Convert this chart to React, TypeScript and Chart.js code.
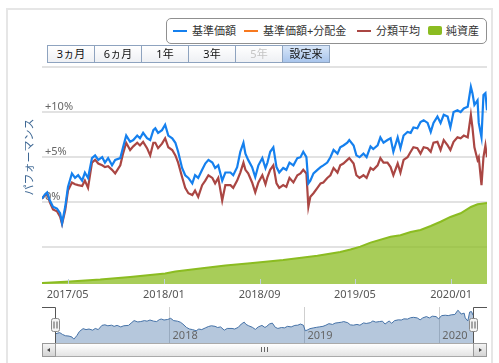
import React, { useEffect, useRef } from 'react';
import { Chart, registerables } from 'chart.js';

Chart.register(...registerables);

// ---------- data ----------
const START_DATE = '2017-02-25';
const END_DAY = 1131;

// day offsets from START_DATE for performance series
const perfDays = [
  0, 8, 13, 20, 28, 38, 46, 51, 59, 66, 76, 84, 92, 102, 109, 117, 127, 135, 143, 153,
  160, 168, 178, 186, 199, 206, 214, 224, 232, 242, 249, 257, 267, 275, 283, 288, 295, 305, 313, 321,
  331, 339, 346, 356, 364, 372, 382, 389, 397, 407, 415, 423, 433, 440, 448, 458, 466, 479, 486, 496,
  504, 512, 517, 524, 534, 542, 550, 560, 568, 573, 580, 588, 596, 603, 613, 621, 629, 639, 649, 657,
  664, 672, 677, 682, 690, 700, 708, 715, 725, 733, 741, 751, 758, 766, 776, 781, 792, 799, 807, 817,
  825, 835, 842, 853, 860, 868, 878, 886, 893, 904, 911, 919, 929, 937, 944, 954, 962, 970, 980, 988,
  995, 1005, 1013, 1021, 1031, 1038, 1046, 1056, 1064, 1072, 1082, 1090, 1094, 1099, 1107, 1110, 1117, 1122, 1127, 1131,
];

// 基準価額 (%)
const fundNav = [
  0.4, 0.9, 1.1, 0.2, -0.5, -0.7, -1.2, -2.3, -0.5, 1.7, 3.2, 2.7, 3.0, 2.4, 3.3, 2.7, 4.9, 5.2, 4.7, 5.0,
  4.4, 4.9, 4.1, 4.7, 4.9, 6.1, 7.4, 6.7, 6.9, 7.4, 7.1, 7.7, 7.1, 6.9, 8.0, 8.2, 7.7, 8.0, 8.6, 7.4,
  7.1, 6.6, 5.6, 3.8, 3.0, 2.7, 2.1, 3.0, 2.7, 3.6, 4.3, 4.7, 4.4, 3.8, 4.1, 2.4, 3.3, 3.3, 3.0, 3.9,
  5.6, 6.6, 5.4, 4.7, 3.9, 2.8, 4.1, 4.9, 3.8, 4.4, 5.6, 6.1, 3.9, 3.3, 3.8, 3.6, 4.4, 4.1, 4.9, 5.0,
  5.6, 5.0, 2.1, 2.4, 3.2, 3.6, 3.9, 4.1, 4.4, 5.0, 5.8, 5.4, 6.1, 6.3, 6.6, 6.9, 6.3, 5.2, 5.0, 5.4,
  5.0, 6.2, 5.9, 6.3, 7.2, 6.6, 6.9, 7.1, 5.6, 7.2, 6.0, 7.4, 7.8, 7.7, 8.3, 8.2, 8.9, 9.1, 8.8, 7.8,
  8.8, 9.5, 8.8, 9.7, 9.5, 8.3, 10.0, 10.2, 10.0, 10.4, 10.6, 12.8, 12.1, 10.8, 11.3, 8.8, 7.2, 11.9, 12.1, 10.2,
];

// 分類平均 (%)
const categoryAvg = [
  0.4, 0.8, 1.0, 0.0, -0.8, -1.0, -1.6, -2.4, -0.9, 1.3, 2.2, 2.0, 1.9, 1.8, 2.4, 1.6, 4.4, 4.7, 4.3, 4.1,
  3.9, 4.0, 3.6, 3.2, 4.1, 5.4, 6.6, 5.8, 6.2, 6.6, 6.3, 6.7, 6.0, 5.2, 6.6, 6.6, 6.0, 6.5, 7.1, 6.1,
  5.8, 5.2, 4.4, 2.8, 1.6, 1.0, 0.8, 1.3, 0.6, 1.9, 2.4, 3.0, 2.7, 2.1, 2.7, 0.2, 1.9, 1.9, 1.6, 2.4,
  3.3, 4.4, 3.6, 3.2, 2.2, 1.1, 2.2, 3.0, 2.0, 2.8, 3.6, 4.1, 2.1, 1.6, 1.9, 1.7, 2.7, 2.2, 3.0, 3.2,
  3.6, 3.2, -0.5, 0.6, 1.0, 1.6, 2.1, 2.2, 2.7, 3.0, 3.8, 3.3, 4.1, 4.3, 4.7, 4.9, 4.3, 3.0, 2.7, 3.0,
  2.7, 3.8, 3.6, 4.1, 4.9, 4.4, 4.4, 3.9, 3.0, 4.3, 3.3, 4.7, 5.0, 5.6, 6.1, 6.0, 5.4, 6.1, 6.0, 5.6,
  6.6, 6.7, 5.8, 6.9, 6.3, 5.8, 6.7, 7.2, 7.1, 7.4, 7.2, 9.7, 8.3, 6.1, 4.7, 5.0, 1.9, 5.0, 6.3, 5.0,
];

// 純資産 (億円)
const assetDays = [
  0, 71, 148, 224, 313, 339, 402, 466, 529, 613, 700, 758, 784, 809, 835, 886, 911, 937, 962, 988,
  1013, 1038, 1064, 1090, 1107, 1131,
];
const netAssets = [
  0.9, 2.3, 4.1, 6.5, 9.7, 11.5, 14.3, 17.1, 19.1, 22.1, 26.1, 29.5, 31.8, 34.4, 38.1, 43.6, 45.0, 47.9, 49.8, 53.5,
  57.4, 61.8, 65.2, 71.0, 73.5, 74.7,
];

const xTickDates = ['2017-05-01', '2018-01-01', '2018-09-01', '2019-05-01', '2020-01-01'];
const xTickLabels = ['2017/05', '2018/01', '2018/09', '2019/05', '2020/01'];
const yGridValues = [-5, 0, 5, 10, 15];
const yLabelValues = [0, 5, 10];
const yLabelTexts = ['0%', '+5%', '+10%'];
const navYearDates = ['2018-01-01', '2019-01-01', '2020-01-01'];
const navYearLabels = ['2018', '2019', '2020'];
const rangeButtons = ['3ヵ月', '6ヵ月', '1年', '3年', '5年', '設定来'];
const legendLabels = ['基準価額', '基準価額+分配金', '分類平均', '純資産'];
const yAxisTitle = 'パフォーマンス';

// ---------- styles ----------
const BLUE = '#1580ee';
const ORANGE = '#f7791f';
const RED = '#aa4643';
const GREEN = '#8bbc21';
const FONT = '"Noto Sans", "Noto Sans CJK JP", sans-serif';

const dayOf = (d: string) =>
  Math.round((Date.parse(d + 'T00:00:00Z') - Date.parse(START_DATE + 'T00:00:00Z')) / 86400000);

const mainDecor = {
  id: 'mainDecor',
  beforeDatasetsDraw(chart: any) {
    const { ctx, chartArea, scales } = chart;
    ctx.save();
    ctx.font = '11px ' + FONT;
    ctx.fillStyle = '#666666';
    ctx.textAlign = 'left';
    ctx.textBaseline = 'alphabetic';
    yLabelValues.forEach((v, i) => {
      ctx.fillText(yLabelTexts[i], chartArea.left + 3, scales.y.getPixelForValue(v) - 2.5);
    });
    ctx.restore();
  },
  afterDatasetsDraw(chart: any) {
    const { ctx, chartArea, scales } = chart;
    ctx.save();
    ctx.strokeStyle = '#c0d0e0';
    ctx.lineWidth = 1;
    xTickDates.forEach((d) => {
      const x = Math.round(scales.x.getPixelForValue(dayOf(d))) + 0.5;
      ctx.beginPath();
      ctx.moveTo(x, chartArea.bottom - 5);
      ctx.lineTo(x, chartArea.bottom);
      ctx.stroke();
    });
    ctx.restore();
  },
};

const navDecor = {
  id: 'navDecor',
  afterDraw(chart: any) {
    const { ctx, chartArea, scales } = chart;
    const { left, right, top, bottom } = chartArea;
    ctx.save();
    // year labels
    ctx.font = '11px ' + FONT;
    ctx.fillStyle = '#666666';
    ctx.textAlign = 'left';
    ctx.textBaseline = 'alphabetic';
    navYearDates.forEach((d, i) => {
      ctx.fillText(navYearLabels[i], scales.x.getPixelForValue(dayOf(d)) + 3, bottom - 4);
    });
    // outline
    ctx.strokeStyle = '#555555';
    ctx.lineWidth = 1;
    const lx = Math.round(left) + 0.5;
    const rx = Math.round(right) + 0.5;
    const ty = Math.round(top) + 0.5;
    ctx.beginPath();
    ctx.moveTo(left - 13, ty);
    ctx.lineTo(lx, ty);
    ctx.lineTo(lx, bottom);
    ctx.moveTo(rx, bottom);
    ctx.lineTo(rx, ty);
    ctx.lineTo(right + 14, ty);
    ctx.stroke();
    // handles
    [lx, rx].forEach((cx) => {
      const hy = Math.round((top + bottom) / 2) - 6.5;
      ctx.beginPath();
      ctx.roundRect(cx - 4, hy, 8, 13, 2);
      ctx.fillStyle = '#f4f4f4';
      ctx.fill();
      ctx.strokeStyle = '#8a8a8a';
      ctx.stroke();
      ctx.beginPath();
      ctx.strokeStyle = '#555555';
      ctx.moveTo(cx - 1.5, hy + 3);
      ctx.lineTo(cx - 1.5, hy + 10);
      ctx.moveTo(cx + 1.5, hy + 3);
      ctx.lineTo(cx + 1.5, hy + 10);
      ctx.stroke();
    });
    ctx.restore();
  },
};

export default function App() {
  const mainRef = useRef<HTMLCanvasElement>(null);
  const navRef = useRef<HTMLCanvasElement>(null);

  useEffect(() => {
    const fundPts = perfDays.map((d, i) => ({ x: d, y: fundNav[i] }));
    const avgPts = perfDays.map((d, i) => ({ x: d, y: categoryAvg[i] }));
    const assetPts = assetDays.map((d, i) => ({ x: d, y: netAssets[i] }));
    const tickDays = xTickDates.map(dayOf);

    const main = new Chart(mainRef.current as HTMLCanvasElement, {
      type: 'line',
      data: {
        datasets: [
          { label: legendLabels[0], data: fundPts, borderColor: BLUE, borderWidth: 2.2, pointRadius: 0, yAxisID: 'y', fill: false },
          { label: legendLabels[1], data: [], borderColor: ORANGE, borderWidth: 2, pointRadius: 0, yAxisID: 'y', fill: false },
          { label: legendLabels[2], data: avgPts, borderColor: RED, borderWidth: 2.2, pointRadius: 0, yAxisID: 'y', fill: false },
          {
            label: legendLabels[3], data: assetPts, borderColor: GREEN, borderWidth: 2, pointRadius: 0,
            backgroundColor: 'rgba(139,188,33,0.75)', fill: 'start', yAxisID: 'y2',
          },
        ],
      },
      options: {
        animation: false,
        responsive: false,
        devicePixelRatio: 1,
        layout: { padding: { left: 42, right: 12, top: 67, bottom: 0 } },
        plugins: { legend: { display: false }, tooltip: { enabled: false } },
        scales: {
          x: {
            type: 'linear',
            min: 0,
            max: END_DAY,
            grid: { display: false },
            border: { display: false },
            ticks: {
              autoSkip: false,
              maxRotation: 0,
              padding: -4,
              color: '#555555',
              font: { size: 11, family: FONT },
              callback: (v: any) => {
                const i = tickDays.indexOf(Number(v));
                return i >= 0 ? xTickLabels[i] : '';
              },
            },
            afterBuildTicks: (s: any) => {
              s.ticks = tickDays.map((v) => ({ value: v }));
            },
            afterFit: (s: any) => {
              s.height = 16;
            },
          },
          y: {
            type: 'linear',
            position: 'left',
            min: -9.06,
            max: 15,
            grid: { color: '#e2e2e2', lineWidth: 2, drawTicks: false },
            border: { display: false },
            ticks: { display: false },
            afterBuildTicks: (s: any) => {
              s.ticks = yGridValues.map((v) => ({ value: v }));
            },
            afterFit: (s: any) => {
              s.width = 0;
            },
          },
          y2: { type: 'linear', position: 'right', min: 0, max: 200, display: false },
        },
      },
      plugins: [mainDecor],
    } as any);

    const yearDays = navYearDates.map(dayOf);
    const nav = new Chart(navRef.current as HTMLCanvasElement, {
      type: 'line',
      data: {
        datasets: [
          {
            data: fundPts, borderColor: '#4572a7', borderWidth: 1, pointRadius: 0,
            backgroundColor: 'rgba(69,114,167,0.4)', fill: 'start',
          },
        ],
      },
      options: {
        animation: false,
        responsive: false,
        devicePixelRatio: 1,
        layout: { padding: { left: 55, right: 26, top: 7, bottom: 7 } },
        plugins: { legend: { display: false }, tooltip: { enabled: false } },
        scales: {
          x: {
            type: 'linear',
            min: 0,
            max: END_DAY,
            grid: { color: '#cfcfcf', lineWidth: 1, drawTicks: false },
            border: { display: false },
            ticks: { display: false },
            afterBuildTicks: (s: any) => {
              s.ticks = yearDays.map((v) => ({ value: v }));
            },
            afterFit: (s: any) => {
              s.height = 0;
            },
          },
          y: { type: 'linear', min: -4.3, max: 14.5, display: false },
        },
      },
      plugins: [navDecor],
    } as any);

    return () => {
      main.destroy();
      nav.destroy();
    };
  }, []);

  const btnLefts = [47, 94, 141, 188, 235, 282];
  const legendSym = [173, 244, 357];
  const legendText = [192, 263, 376, 446];

  return (
    <div
      style={{
        position: 'fixed', left: 0, top: 0, width: 499, height: 363, overflow: 'hidden',
        background: '#ffffff', fontFamily: FONT,
      }}
    >
      <div
        style={{
          position: 'absolute', left: 6, top: 8, width: 487, height: 400, boxSizing: 'border-box',
          border: '2px solid #e6e6e6',
        }}
      />
      <canvas ref={mainRef} width={499} height={300} style={{ position: 'absolute', left: 0, top: 0 }} />
      <canvas ref={navRef} width={499} height={50} style={{ position: 'absolute', left: 0, top: 300 }} />

      {/* y axis title */}
      <div
        style={{
          position: 'absolute', left: 29 - 45, top: 157 - 7, width: 90, height: 14, lineHeight: '14px',
          textAlign: 'center', fontSize: 11, color: '#3f6894', transform: 'rotate(-90deg)', whiteSpace: 'nowrap',
        }}
      >
        {yAxisTitle}
      </div>

      {/* legend */}
      <div
        style={{
          position: 'absolute', left: 166, top: 18, width: 321, height: 26, boxSizing: 'border-box',
          border: '1px solid #909090', borderRadius: 5, background: '#fff',
        }}
      />
      {[BLUE, ORANGE, RED].map((c, i) => (
        <div key={'s' + i} style={{ position: 'absolute', left: legendSym[i], top: 30, width: 14, height: 2, background: c }} />
      ))}
      <div style={{ position: 'absolute', left: 428, top: 26, width: 14, height: 9, borderRadius: 2, background: GREEN }} />
      {legendLabels.map((t, i) => (
        <div
          key={'t' + i}
          style={{
            position: 'absolute', left: legendText[i], top: 23, height: 16, lineHeight: '16px', fontSize: 11,
            color: '#333333', whiteSpace: 'nowrap',
          }}
        >
          {t}
        </div>
      ))}

      {/* range buttons */}
      {rangeButtons.map((t, i) => {
        const sel = i === 5;
        const dis = i === 4;
        return (
          <div
            key={'b' + i}
            style={{
              position: 'absolute', left: btnLefts[i], top: 45, width: 48, height: 18, boxSizing: 'border-box',
              border: '1px solid #8ea3bf',
              background: sel
                ? 'linear-gradient(#d8e6f8, #a9c5ec)'
                : 'linear-gradient(#ffffff, #eef0f4)',
              textAlign: 'center', lineHeight: '16px', fontSize: 11,
              color: dis ? '#c4c4c4' : '#111111', whiteSpace: 'nowrap',
            }}
          >
            {t}
          </div>
        );
      })}

      {/* scrollbar */}
      <div
        style={{
          position: 'absolute', left: 42, top: 343, width: 445, height: 14, boxSizing: 'border-box',
          border: '1px solid #bbbbbb', background: 'linear-gradient(#f2f2f2, #e2e2e2)',
        }}
      />
      <div
        style={{
          position: 'absolute', left: 55, top: 343, width: 419, height: 14, boxSizing: 'border-box',
          border: '1px solid #aaaaaa', background: 'linear-gradient(#ffffff, #e4e4e4)',
        }}
      />
      {[261, 264, 267].map((x) => (
        <div key={'g' + x} style={{ position: 'absolute', left: x, top: 347, width: 1, height: 5, background: '#666' }} />
      ))}
      {[42, 473].map((x, i) => (
        <div
          key={'a' + i}
          style={{
            position: 'absolute', left: x, top: 343, width: 14, height: 14, boxSizing: 'border-box',
            border: '1px solid #999999', background: 'linear-gradient(#f4f4f4, #d4d4d4)',
          }}
        >
          <div
            style={{
              position: 'absolute', left: i === 0 ? 4 : 5, top: 3.5, width: 0, height: 0,
              borderTop: '2.5px solid transparent', borderBottom: '2.5px solid transparent',
              borderRight: i === 0 ? '3px solid #444' : undefined,
              borderLeft: i === 1 ? '3px solid #444' : undefined,
            }}
          />
        </div>
      ))}
    </div>
  );
}
